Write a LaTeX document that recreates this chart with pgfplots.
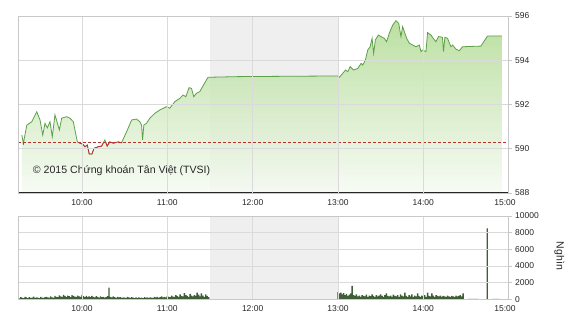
\documentclass[border=0pt]{standalone}
\usepackage{pgfplots}
\pgfplotsset{compat=1.18}
\usepackage{pgfplotstable}
\usepackage{fontspec}
\setmainfont{Liberation Sans}
\definecolor{gridc}{HTML}{DADADA}
\definecolor{framec}{HTML}{C8C8C8}
\definecolor{bandc}{HTML}{EFEFEF}
\definecolor{linec}{HTML}{5E9F4A}
\definecolor{filltop}{HTML}{B0DA92}
\definecolor{fillbot}{HTML}{F6FBF3}
\definecolor{refc}{HTML}{B8312F}
\definecolor{volc}{HTML}{3F5E37}

\pgfplotstableread{
m v
17.7 590.62
18.8 590.25
21.2 591.07
24.7 591.22
28.2 591.67
30.5 591.30
32.4 590.62
34.0 591.15
35.6 590.94
37.5 591.22
39.1 590.54
41.0 591.53
42.7 591.16
44.1 590.85
45.7 591.38
49.2 591.45
51.6 591.38
53.9 591.22
56.7 590.32
58.6 590.25
60.5 590.21
62.1 590.09
63.7 590.17
65.1 589.76
67.0 589.76
68.4 590.02
71.4 590.09
73.8 590.12
76.1 590.40
77.7 590.12
79.6 590.32
82.0 590.25
85.5 590.32
87.8 590.27
91.4 590.77
94.9 591.30
98.4 591.34
100.7 591.22
101.9 591.07
102.6 590.40
103.5 591.07
105.4 591.15
107.7 591.38
111.2 591.60
114.7 591.75
119.4 591.90
121.7 591.83
125.3 592.13
128.8 592.28
131.1 592.43
133.0 592.35
135.3 592.76
137.0 592.73
138.6 592.35
140.5 592.51
142.8 592.58
144.7 592.80
148.6 593.23
170.0 593.26
240.0 593.29
241.0 593.23
243.4 593.41
245.3 593.56
246.9 593.48
248.6 593.71
250.9 593.56
253.9 593.63
256.3 593.86
257.4 593.78
259.3 594.01
260.9 594.46
262.6 594.61
264.0 594.99
265.1 594.31
266.3 594.92
268.4 595.14
270.3 595.07
272.6 594.99
274.2 594.84
276.1 595.22
278.5 595.59
280.8 595.79
282.7 595.67
284.3 595.07
285.5 595.52
286.7 595.29
288.3 594.99
290.2 594.77
292.5 594.69
294.9 594.61
297.2 594.69
298.4 594.39
299.5 594.46
301.9 594.39
303.0 595.25
305.4 595.14
307.0 594.99
308.9 594.84
310.7 595.07
313.5 595.04
314.2 594.39
315.2 595.04
317.1 594.99
319.4 594.61
320.6 594.69
323.0 594.50
325.3 594.43
327.6 594.61
340.5 594.64
345.2 595.10
355.2 595.10
}\price

\pgfplotstableread{
m q
15 200
16 120
17 260
18 180
19 150
20 300
21 220
22 140
23 250
24 180
25 200
26 320
27 160
28 240
29 190
30 150
31 280
32 210
33 170
34 260
35 300
36 220
37 180
38 350
39 240
40 200
41 420
42 300
43 260
44 480
45 350
46 280
47 520
48 400
49 300
50 450
51 380
52 250
53 500
54 420
55 320
56 280
57 450
58 350
59 300
60 520
61 380
62 260
63 420
64 300
65 350
66 250
67 400
68 300
69 220
70 380
71 280
72 200
73 340
74 260
75 300
76 200
77 250
78 380
79 1400
80 300
81 220
82 340
83 250
84 180
85 300
86 220
87 260
88 180
89 240
90 200
91 160
92 280
93 220
94 180
95 260
96 200
97 150
98 240
99 180
100 220
101 160
102 200
103 140
104 260
105 180
106 220
107 160
108 240
109 200
110 180
111 280
112 220
113 300
114 180
115 260
116 340
117 220
118 300
119 240
120 400
121 300
122 250
123 450
124 320
125 280
126 500
127 380
128 300
129 600
130 420
131 350
132 750
133 500
134 400
135 300
136 650
137 450
138 350
139 500
140 400
141 800
142 550
143 350
144 700
145 450
146 300
147 600
148 400
149 250
240 850
241 700
242 800
243 600
244 750
245 500
246 650
247 400
248 550
249 700
250 1600
251 500
252 400
253 600
254 350
255 450
256 300
257 500
258 400
259 350
260 550
261 300
262 450
263 380
264 600
265 400
266 300
267 500
268 350
269 450
270 600
271 400
272 300
273 500
274 700
275 400
276 350
277 450
278 300
279 550
280 400
281 350
282 500
283 300
284 600
285 450
286 350
287 800
288 400
289 300
290 500
291 350
292 600
293 300
294 450
295 350
296 700
297 400
298 300
299 450
300 350
301 500
302 300
303 800
304 400
305 350
306 700
307 450
308 300
309 500
310 400
311 350
312 450
313 300
314 400
315 350
316 300
317 450
318 350
319 300
320 400
321 350
322 300
323 450
324 350
325 400
326 500
327 350
328 700
332 60
333 60
334 60
335 60
336 60
337 60
338 60
345 8500
349 60
350 60
351 60
352 60
353 60
}\vol

\pgfplotsset{
  tvsi/.style={
    scale only axis, width=490.6pt,
    xmin=15, xmax=360,
    xtick={60,120,180,240,300,360},
    xticklabels={10:00,11:00,12:00,13:00,14:00,{\llap{15:00\kern-7pt}}},
    xtick style={draw=none},
    ytick pos=right, yticklabel pos=right,
    tick align=outside, major tick length=3pt,
    ytick style={framec, line width=0.6pt},
    grid=major, grid style={gridc, line width=0.6pt},
    axis line style={framec, line width=0.6pt},
    tick label style={font=\fontsize{8.5}{10}\selectfont, text=black!85},
    /pgf/number format/assume math mode=true,
    /pgf/number format/1000 sep={},
    scaled y ticks=false,
    clip mode=individual,
    axis on top,
  }
}

\begin{document}
\begin{tikzpicture}
\useasboundingbox (0,0) rectangle (570pt,320pt);

% price panel
\begin{axis}[tvsi,
  at={(18pt,127pt)}, anchor=south west, height=177pt,
  ymin=588, ymax=596, ytick={588,590,...,596},
]
\addplot[draw=none, fill=bandc] coordinates {(150,588) (150,596) (240,596) (240,588)} -- cycle;
\addplot[draw=none, top color=filltop, bottom color=fillbot, fill opacity=0.85] table[x=m,y=v] {\price} \closedcycle;
\addplot[linec, line width=0.8pt] table[x=m,y=v] {\price};
\begin{scope}
\clip (axis cs:15,588) rectangle (axis cs:360,590.26);
\addplot[refc, line width=0.8pt] table[x=m,y=v] {\price};
\end{scope}
\addplot[refc, densely dashed, line width=0.6pt] coordinates {(15,590.27) (360,590.27)};
\draw[black!85, line width=1.2pt] (rel axis cs:0,0) -- (rel axis cs:1,0);
\node[anchor=west, inner sep=0pt, font=\fontsize{10.6}{12}\selectfont, text=black!85] at (rel axis cs:0.03,0.126) {© 2015 Chứng khoán Tân Việt (TVSI)};
\end{axis}

% volume panel
\begin{axis}[tvsi,
  at={(18pt,20.7pt)}, anchor=south west, height=83.3pt,
  ymin=0, ymax=10000, ytick={0,2000,...,10000},
]
\addplot[draw=none, fill=bandc] coordinates {(150,0) (150,10000) (240,10000) (240,0)} -- cycle;
\addplot[ybar, bar width=1, fill=volc, draw=none] table[x=m,y=q] {\vol};
\draw[black!85, line width=1.2pt] (rel axis cs:0,0) -- (rel axis cs:1,0);
\node[rotate=-90, font=\fontsize{10.5}{12}\selectfont, text=black!85] at (rel axis cs:1.1033,0.52) {Nghìn};
\end{axis}
\end{tikzpicture}
\end{document}
